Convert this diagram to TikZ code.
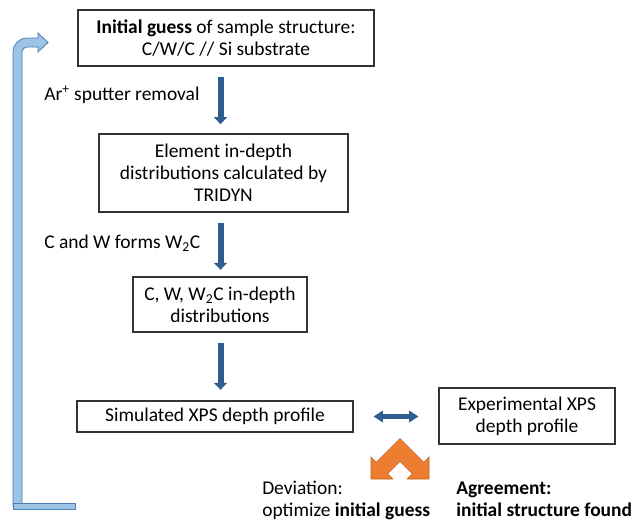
\documentclass[tikz,border=0pt]{standalone}
\usepackage{fontspec}
\setmainfont{Carlito}
\usetikzlibrary{arrows.meta,calc}
\definecolor{flowblue}{HTML}{2E5E8E}
\definecolor{loopfill}{HTML}{9DC3E6}
\definecolor{loopedge}{HTML}{4A7DB0}
\definecolor{orfill}{HTML}{ED7D31}
\definecolor{oredge}{HTML}{C0651F}
\tikzset{
  stepbox/.style={draw=black!80, line width=0.8pt, inner sep=0pt, align=center,
    font=\fontsize{14.6pt}{16.5pt}\selectfont},
  plain/.style={inner sep=0pt, align=left, font=\fontsize{14.6pt}{17pt}\selectfont},
  downflow/.style={flowblue, line width=4.5pt,
    -{Triangle[width=9.75pt,length=5.25pt]}},
  twoway/.style={flowblue, line width=3.75pt,
    {Triangle[width=8.5pt,length=7pt]}-{Triangle[width=8.5pt,length=7pt]}},
}
\begin{document}
\begin{tikzpicture}[x=0.75pt,y=-0.75pt]
\useasboundingbox (0,0) rectangle (634,519);

% process boxes
\node[stepbox, minimum width=222pt, minimum height=42pt] (b1) at (226,38)
  {\textbf{Initial guess} of sample structure:\\C/W/C // Si substrate};
\node[stepbox, minimum width=186.75pt, minimum height=58.5pt] (b2) at (223.5,173)
  {Element in-depth\\distributions calculated by\\TRIDYN};
\node[stepbox, minimum width=130.5pt, minimum height=41.25pt] (b3) at (220,304.5)
  {C, W, W\textsubscript{2}C in-depth\\distributions};
\node[stepbox, minimum width=207pt, minimum height=23.25pt] (b4) at (215,416.5)
  {Simulated XPS depth profile};
\node[stepbox, minimum width=132pt, minimum height=42pt] (b5) at (527,416)
  {Experimental XPS\\depth profile};

% side labels
\node[plain, anchor=west] (l1) at (44,95) {Ar\textsuperscript{+} sputter removal};
\node[plain, anchor=west] (l2) at (44,243) {C and W forms W\textsubscript{2}C};
\node[plain, anchor=base west] (dev1) at (262,494) {Deviation:};
\node[plain, anchor=base west] (dev2) at (262,516) {optimize \textbf{initial guess}};
\node[plain, anchor=base west] (agr1) at (456,494) {\textbf{Agreement:}};
\node[plain, anchor=base west] (agr2) at (456,516) {\textbf{initial structure found}};

% downward flow arrows
\coordinate (ax) at (220.5,0);
\draw[downflow, shorten <=7.5pt, shorten >=7pt] (b1.south -| ax) -- (b2.north -| ax);
\draw[downflow, shorten <=8pt, shorten >=5pt] (b2.south -| ax) -- (b3.north -| ax);
\draw[downflow, shorten <=7.5pt, shorten >=8pt] (b3.south -| ax) -- (b4.north -| ax);

% comparison arrow
\draw[twoway, shorten <=15pt, shorten >=15pt] (b4.east) -- (b4.east -| b5.west);

% outcome chevron with two heads
\fill[orfill, draw=oredge, line width=0.4pt]
  (371,479) -- (371,457) -- (376.3,462.3) -- (400,438.6) -- (423.7,462.3)
  -- (429,457) -- (429,479) -- (407,479) -- (412.3,473.7) -- (400,461.4)
  -- (387.7,473.7) -- (393,479) -- cycle;

% feedback loop back to the initial guess
\filldraw[fill=loopfill, draw=loopedge, line width=0.6pt]
  (13,506) -- (13,52) .. controls (13,44.3) and (19.3,38) .. (27,38)
  -- (38,38) -- (38,33) -- (48,42.5) -- (38,52) -- (38,47) -- (27,47)
  .. controls (24.2,47) and (22,49.2) .. (22,52) -- (22,506) -- cycle;
\filldraw[fill=loopfill, draw=loopedge, line width=0.6pt]
  (13,503) rectangle (75,509);
\end{tikzpicture}
\end{document}
